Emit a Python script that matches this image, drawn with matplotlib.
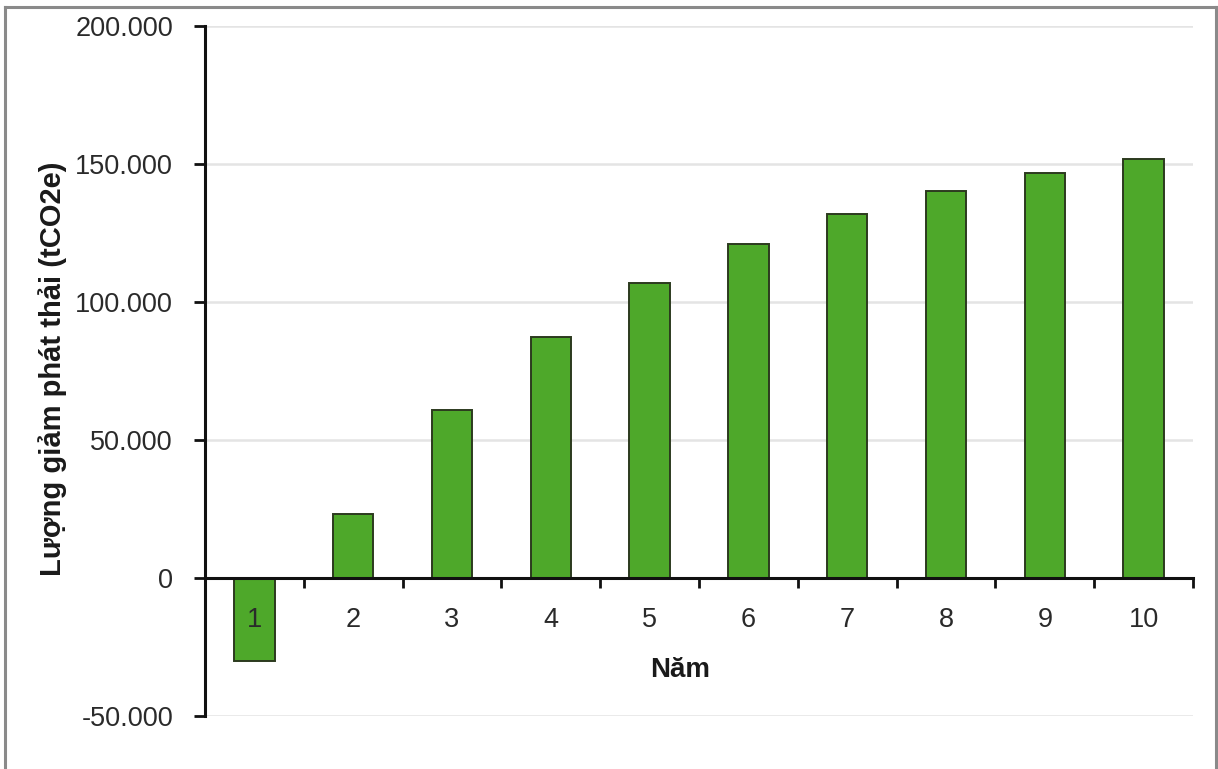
import matplotlib
matplotlib.use("Agg")
import matplotlib.pyplot as plt
from matplotlib.ticker import FuncFormatter, FixedLocator
from matplotlib.lines import Line2D

# Annual emission reductions (tCO2e) by project year
years = [1, 2, 3, 4, 5, 6, 7, 8, 9, 10]
reductions = [-30200, 23200, 61000, 87300, 107000, 121100, 131900, 140100, 146700, 151800]
y_ticks = [-50000, 0, 50000, 100000, 150000, 200000]
x_label = "Năm"
y_label = "Lượng giảm phát thải (tCO2e)"

plt.rcParams['font.family'] = ['Liberation Sans', 'DejaVu Sans']
FS = 19.5

fig = plt.figure(figsize=(12.18, 7.69), dpi=100)
ax = fig.add_axes([205 / 1218, 53 / 769, 988 / 1218, 690 / 769])

ax.set_xlim(0.5, 10.5)
ax.set_ylim(-50000, 200000)

# light horizontal gridlines behind everything
for v in y_ticks:
    if v != 0:
        ax.axhline(v, color="#e4e4e4", linewidth=1.8, zorder=0)

ax.bar(years, reductions, width=0.41, color="#4ea82a", edgecolor="#2c3a1e",
       linewidth=1.4, zorder=2)

# axis (ticks, labels, spines) drawn above the bars
ax.set_axisbelow(False)

ax.set_yticks(y_ticks)


def thousands(v, pos):
    v = int(round(v))
    s = f"{abs(v):,}".replace(",", ".")
    return ("-" if v < 0 else "") + s


ax.yaxis.set_major_formatter(FuncFormatter(thousands))
ax.tick_params(axis="y", direction="out", length=8, width=2, pad=15,
               labelsize=FS, labelcolor="#2a2a2a", color="#111111")

# category boundary ticks on the zero line, labels at bar centres
ax.xaxis.set_major_locator(FixedLocator([x + 0.5 for x in years]))
ax.xaxis.set_minor_locator(FixedLocator(years))
ax.xaxis.set_major_formatter(FuncFormatter(lambda v, p: ""))
ax.xaxis.set_minor_formatter(FuncFormatter(lambda v, p: str(int(round(v)))))
ax.tick_params(axis="x", which="major", direction="out", length=7, width=2,
               color="#111111")
ax.tick_params(axis="x", which="minor", length=0, pad=21, labelsize=FS,
               labelcolor="#2a2a2a")

for side in ("top", "right"):
    ax.spines[side].set_visible(False)
ax.spines["bottom"].set_position(("data", 0))
ax.spines["bottom"].set_linewidth(2.2)
ax.spines["bottom"].set_color("#111111")
ax.spines["left"].set_linewidth(2.2)
ax.spines["left"].set_color("#111111")

ax.set_ylabel(y_label, fontsize=21, fontweight="bold", color="#1a1a1a")
ax.yaxis.set_label_coords((67 - 205) / 988, (716 - 369) / 690)
ax.set_xlabel(x_label, fontsize=20, fontweight="bold", color="#1a1a1a")
ax.xaxis.set_label_coords((680 - 205) / 988, (716 - 670) / 690)
ax.xaxis.label.set_verticalalignment("center")

# outer frame (left, top, right)
W, H = 1218, 769
frame = dict(color="#8a8a8a", linewidth=2.2, transform=fig.transFigure)
fig.add_artist(Line2D([5 / W, 5 / W], [0, 1 - 7 / H], **frame))
fig.add_artist(Line2D([5 / W, 1216 / W], [1 - 7 / H, 1 - 7 / H], **frame))
fig.add_artist(Line2D([1216 / W, 1216 / W], [0, 1 - 7 / H], **frame))

fig.savefig("out.png", dpi=100)
